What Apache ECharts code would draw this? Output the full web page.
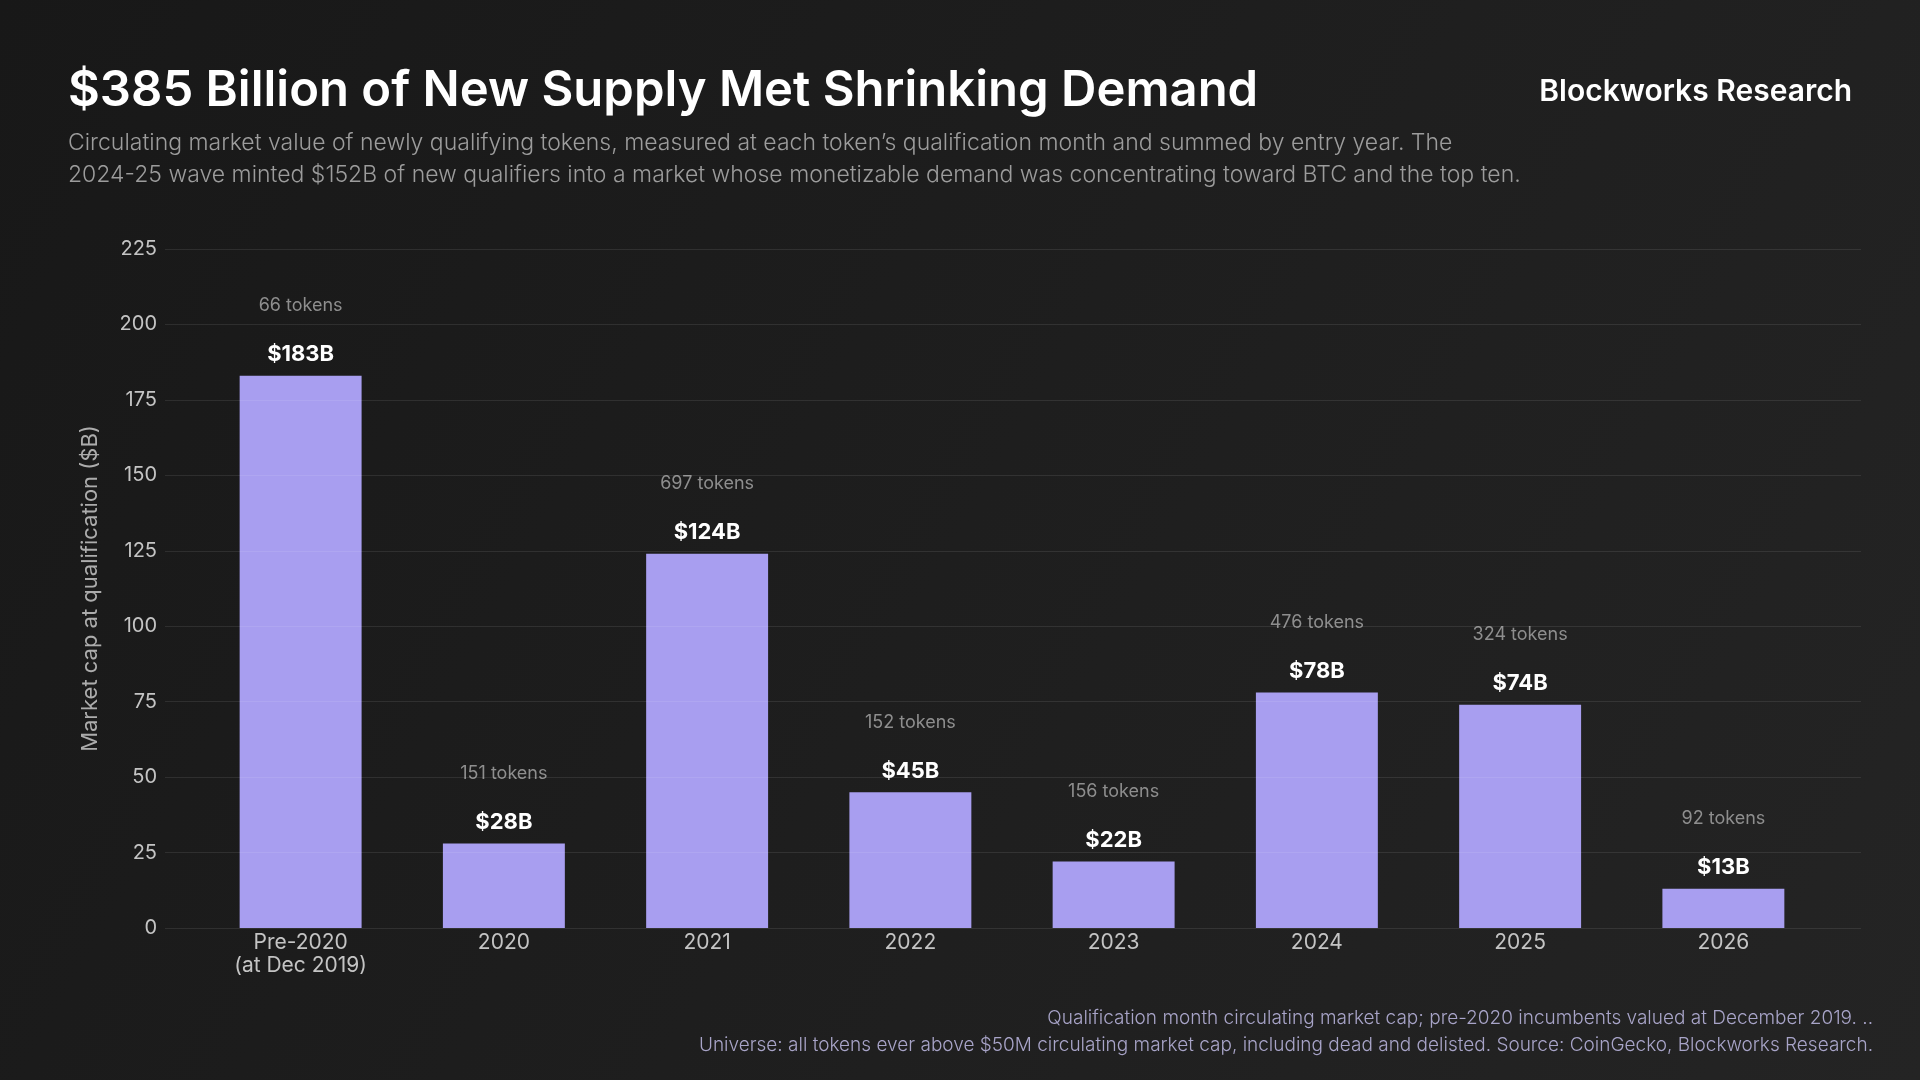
<!DOCTYPE html>
<html>
<head>
<meta charset="utf-8">
<style>
html,body{margin:0;padding:0;width:1920px;height:1080px;overflow:hidden;background:#1c1c1c;}
#chart{width:1920px;height:1080px;}
</style>
<script src="https://cdn.jsdelivr.net/npm/echarts@6/dist/echarts.min.js"></script>
</head>
<body>
<div id="chart"></div>
<script>
const categories = ['Pre-2020\n(at Dec 2019)', '2020', '2021', '2022', '2023', '2024', '2025', '2026'];
const values = [183, 28, 124, 45, 22, 78, 74, 13];
const tokenCounts = [66, 151, 697, 152, 156, 476, 324, 92];
const yTicks = [0, 25, 50, 75, 100, 125, 150, 175, 200, 225];

const FONT = 'Inter, "Noto Sans", sans-serif';
const chart = echarts.init(document.getElementById('chart'), null, {renderer: 'canvas'});

const barData = values.map((v, i) => ({
  value: v,
  label: {formatter: '{t|' + tokenCounts[i] + ' tokens}\n{g|}\n{v|$' + v + 'B}'}
}));

const option = {
  backgroundColor: {
    type: 'linear', x: 0, y: 0, x2: 1, y2: 1,
    colorStops: [{offset: 0, color: '#181818'}, {offset: 1, color: '#242424'}]
  },
  textStyle: {fontFamily: FONT},
  title: [
    {text: '$385 Billion of New Supply Met Shrinking Demand', left: 63, top: 62,
     textStyle: {color: '#ffffff', fontSize: 49, fontWeight: 600, fontFamily: FONT}},
    {text: 'Circulating market value of newly qualifying tokens, measured at each token\u2019s qualification month and summed by entry year. The\n2024-25 wave minted $152B of new qualifiers into a market whose monetizable demand was concentrating toward BTC and the top ten.',
     left: 63, top: 122,
     textStyle: {color: '#9c9c9c', fontSize: 23, fontWeight: 300, lineHeight: 32, fontFamily: FONT}},
    {text: 'Blockworks Research', right: 63, top: 72,
     textStyle: {color: '#ffffff', fontSize: 30, fontWeight: 600, fontFamily: FONT}}
  ],
  graphic: [
    {type: 'text', right: 47, top: 1005,
     style: {text: 'Qualification month circulating market cap; pre-2020 incumbents valued at December 2019. ..\nUniverse: all tokens ever above $50M circulating market cap, including dead and delisted. Source: CoinGecko, Blockworks Research.',
       fill: '#a8a4c8', font: '300 19px Inter, "Noto Sans", sans-serif', lineHeight: 27, textAlign: 'right'}}
  ],
  grid: [
    {left: 165, right: 59, top: 249, bottom: 152},
    {left: 199, right: 95, top: 249, bottom: 152}
  ],
  xAxis: [
    {gridIndex: 0, type: 'category', data: categories, show: false},
    {gridIndex: 1, type: 'category', data: categories,
     axisLine: {show: false}, axisTick: {show: false},
     axisLabel: {color: '#c4c4c4', fontSize: 21, lineHeight: 23, margin: 3, fontFamily: FONT, interval: 0}}
  ],
  yAxis: [
    {gridIndex: 0, type: 'value', min: 0, max: 225, interval: 25, z: 5,
     name: 'Market cap at qualification ($B)', nameLocation: 'middle', nameGap: 64,
     nameTextStyle: {color: '#acacac', fontSize: 22, fontFamily: FONT},
     axisLine: {show: false}, axisTick: {show: false},
     axisLabel: {color: '#c4c4c4', fontSize: 20, margin: 8, fontFamily: FONT,
       formatter: v => yTicks.includes(v) ? String(v) : ''},
     splitLine: {show: true, lineStyle: {color: 'rgba(255,255,255,0.09)', width: 1}}},
    {gridIndex: 1, type: 'value', min: 0, max: 225, interval: 25, show: false,
     splitLine: {show: false}}
  ],
  series: [
    {type: 'bar', xAxisIndex: 1, yAxisIndex: 1, data: barData, barWidth: '60%',
     itemStyle: {color: '#a89ef0'},
     label: {show: true, position: 'top', distance: 8,
       rich: {
         t: {color: '#8e8e8e', fontSize: 18, lineHeight: 24, fontFamily: FONT},
         g: {lineHeight: 24, fontSize: 10},
         v: {color: '#ffffff', fontSize: 22, fontWeight: 700, lineHeight: 26, fontFamily: FONT}
       }}}
  ]
};
chart.setOption(option);
</script>
</body>
</html>
